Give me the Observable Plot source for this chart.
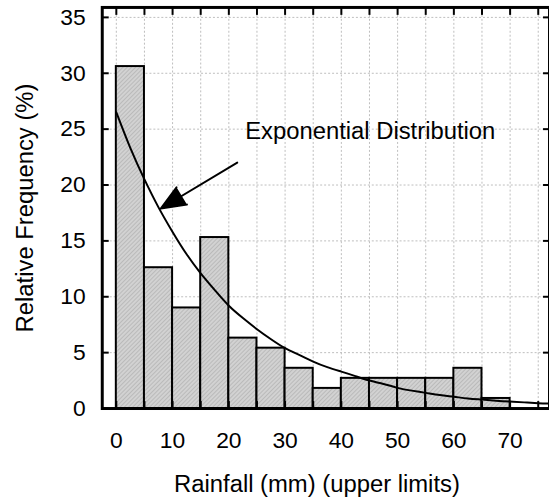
<!DOCTYPE html>
<html><head><meta charset="utf-8">
<script src="https://cdn.jsdelivr.net/npm/d3@7"></script>
<script src="https://cdn.jsdelivr.net/npm/@observablehq/plot@0.6"></script>
<style>
html,body{margin:0;padding:0;background:#fff;}
#wrap{width:549px;height:502px;overflow:hidden;}
#wrap svg{overflow:hidden !important;}
</style></head><body><div id="wrap"></div>
<script>
// Histogram bins (mm) and relative frequency (%)
const binStart = [0, 5, 10, 15, 20, 25, 30, 35, 40, 45, 50, 55, 60, 65];
const binEnd   = [5, 10, 15, 20, 25, 30, 35, 40, 45, 50, 55, 60, 65, 70];
const freq     = [30.6, 12.6, 9.0, 15.3, 6.3, 5.4, 3.6, 1.8, 2.7, 2.7, 2.7, 2.7, 3.6, 0.9];

// Exponential distribution curve
const curveX = [0, 2.5, 5, 7.5, 10, 12.5, 15, 17.5, 20, 22.5, 25, 27.5, 30, 32.5, 35, 37.5, 40, 42.5, 45, 47.5, 50, 52.5, 55, 57.5, 60, 62.5, 65, 67.5, 70, 72.5, 75, 77];
const curveY = [26.5, 23.3, 20.5, 18.0, 15.8, 13.8, 12.1, 10.6, 9.2, 8.1, 7.1, 6.2, 5.4, 4.8, 4.2, 3.7, 3.3, 2.9, 2.5, 2.2, 1.85, 1.6, 1.4, 1.2, 1.05, 0.9, 0.8, 0.7, 0.62, 0.55, 0.48, 0.44];

// Tick values
const xTicks = [0, 5, 10, 15, 20, 25, 30, 35, 40, 45, 50, 55, 60, 65, 70, 75];
const xLabels = [0, 10, 20, 30, 40, 50, 60, 70];
const yTicks = [0, 5, 10, 15, 20, 25, 30, 35];

// Texts and annotation
const xTitle = "Rainfall (mm) (upper limits)";
const yTitle = "Relative Frequency (%)";
const noteText = "Exponential Distribution";
const notePos = [22.9, 24.8];
const arrowFrom = [21.5, 22.0];
const arrowTo = [7.9, 17.9];

const bars = binStart.map((s, i) => ({x1: s, x2: binEnd[i], y: freq[i]}));
const curve = curveX.map((x, i) => ({x, y: curveY[i]}));

const font = "'Liberation Sans', Arial, Helvetica, sans-serif";
const gridStyle = {stroke: "#bdbdbd", strokeOpacity: 1, strokeDasharray: "2,2", strokeWidth: 1};

const chart = Plot.plot({
  width: 553, height: 502,
  marginLeft: 102.5, marginRight: 0, marginTop: 7, marginBottom: 91,
  style: {fontFamily: font, fontSize: "23px", background: "white", color: "black"},
  x: {domain: [-2.5, 77]},
  y: {domain: [0, 35.89]},
  marks: [
    Plot.gridX(xTicks, gridStyle),
    Plot.gridY(yTicks, gridStyle),
    Plot.rectY(bars, {x1: "x1", x2: "x2", y: "y", fill: "url(#hatch)", stroke: "black", strokeWidth: 2}),
    Plot.line(curve, {x: "x", y: "y", curve: "natural", stroke: "black", strokeWidth: 2}),
    Plot.arrow([{x1: arrowFrom[0], y1: arrowFrom[1], x2: arrowTo[0], y2: arrowTo[1]}],
      {x1: "x1", y1: "y1", x2: "x2", y2: "y2", stroke: "black", fill: "black", strokeWidth: 2, headLength: 20, headAngle: 45}),
    Plot.text([noteText], {x: () => notePos[0], y: () => notePos[1], text: d => d, textAnchor: "start", lineAnchor: "middle", fontSize: 24, fill: "black"}),
    Plot.axisX(xTicks, {anchor: "bottom", tickSize: -7, tickFormat: () => "", strokeWidth: 2, label: null}),
    Plot.axisX(xLabels, {anchor: "bottom", tickSize: 0, tickPadding: 23, fontSize: 23, label: null}),
    Plot.axisX(xTicks, {anchor: "top", tickSize: -7, tickFormat: () => "", strokeWidth: 2, label: null}),
    Plot.axisY(yTicks, {anchor: "left", tickSize: -7, tickPadding: 23.7, strokeWidth: 2, fontSize: 23, label: null}),
    Plot.axisY(yTicks, {anchor: "right", tickSize: -7, tickFormat: () => "", strokeWidth: 2, label: null}),
    Plot.frame({stroke: "black", strokeWidth: 3}),
    Plot.text([xTitle], {frameAnchor: "bottom", dy: 76.3, dx: -9, text: d => d, textAnchor: "middle", lineAnchor: "middle", fontSize: 24, fill: "black"}),
    Plot.text([yTitle], {frameAnchor: "left", dx: -77.5, rotate: -90, text: d => d, textAnchor: "middle", lineAnchor: "middle", fontSize: 24, fill: "black"})
  ]
});

const ns = "http://www.w3.org/2000/svg";
const defs = document.createElementNS(ns, "defs");
const pat = document.createElementNS(ns, "pattern");
pat.setAttribute("id", "hatch");
pat.setAttribute("patternUnits", "userSpaceOnUse");
pat.setAttribute("width", "3");
pat.setAttribute("height", "3");
pat.setAttribute("patternTransform", "rotate(45)");
const bg = document.createElementNS(ns, "rect");
bg.setAttribute("width", "3"); bg.setAttribute("height", "3"); bg.setAttribute("fill", "#d2d2d2");
const ln = document.createElementNS(ns, "line");
ln.setAttribute("x1", "0"); ln.setAttribute("y1", "0"); ln.setAttribute("x2", "0"); ln.setAttribute("y2", "3");
ln.setAttribute("stroke", "#a2a2a2"); ln.setAttribute("stroke-width", "1");
pat.appendChild(bg); pat.appendChild(ln); defs.appendChild(pat);
chart.insertBefore(defs, chart.firstChild);
document.getElementById("wrap").appendChild(chart);
</script></body></html>
